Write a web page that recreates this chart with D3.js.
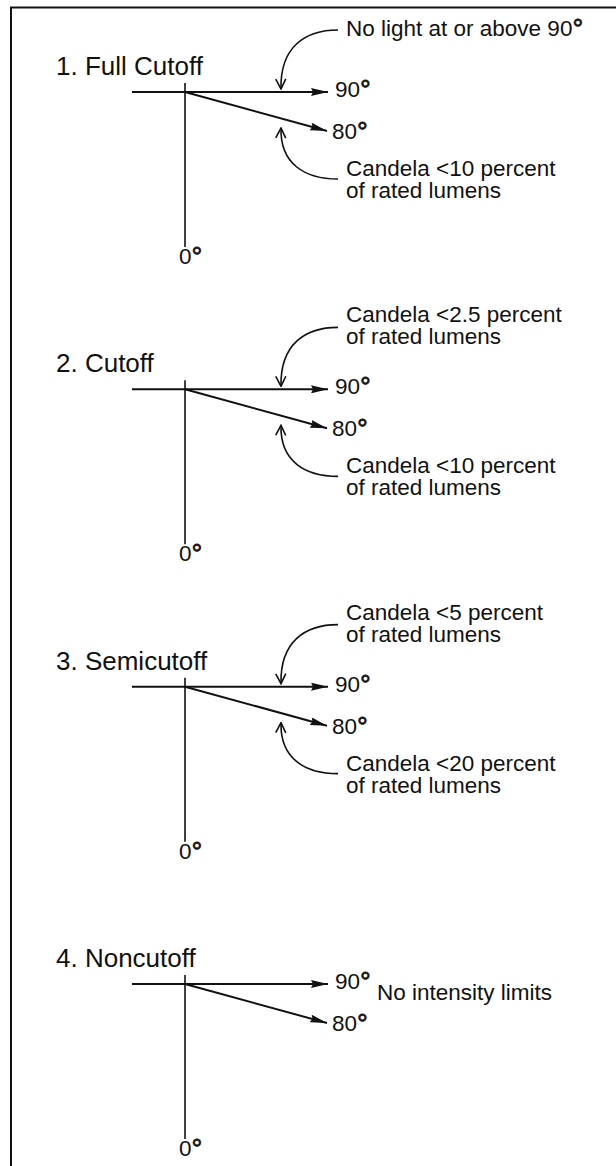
<!DOCTYPE html>
<html>
<head>
<meta charset="utf-8">
<script src="https://cdn.jsdelivr.net/npm/d3@7"></script>
<style>
  html, body { margin: 0; padding: 0; background: #fff; }
  text { font-family: "Liberation Sans", Arial, Helvetica, sans-serif; fill: #111; }
</style>
</head>
<body>
<svg id="chart"></svg>
<script>
const width = 616,
  height = 1166;

// Cutoff classes, top to bottom
const panelTitles = ["1. Full Cutoff", "2. Cutoff", "3. Semicutoff", "4. Noncutoff"];
// Note pointing at the 90 degree ray (null = none)
const upperNotes = [
  ["No light at or above 90°"],
  ["Candela <2.5 percent", "of rated lumens"],
  ["Candela <5 percent", "of rated lumens"],
  null
];
// Note pointing at the 80 degree ray
const lowerNotes = [
  ["Candela <10 percent", "of rated lumens"],
  ["Candela <10 percent", "of rated lumens"],
  ["Candela <20 percent", "of rated lumens"],
  null
];
// Note placed to the right of the rays
const sideNotes = [null, null, null, "No intensity limits"];
// Angles drawn in every panel (from nadir)
const rayAngles = [90, 80];
const nadirAngle = 0;

const svg = d3.select("#chart")
  .attr("width", width)
  .attr("height", height);

svg.append("rect").attr("width", width).attr("height", height).attr("fill", "#fff");

// frame: top and left rule only
svg.append("line").attr("x1", 10).attr("x2", width).attr("y1", 7.5).attr("y2", 7.5)
  .attr("stroke", "#111").attr("stroke-width", 2);
svg.append("line").attr("x1", 11).attr("x2", 11).attr("y1", 7).attr("y2", height)
  .attr("stroke", "#111").attr("stroke-width", 2);

const defs = svg.append("defs");
defs.append("marker")
  .attr("id", "tri")
  .attr("markerUnits", "userSpaceOnUse")
  .attr("viewBox", "0 0 17 8")
  .attr("refX", 17).attr("refY", 4)
  .attr("markerWidth", 17).attr("markerHeight", 8)
  .attr("orient", "auto")
  .append("path").attr("d", "M0,0L17,4L0,8L2,4Z").attr("fill", "#111");
defs.append("marker")
  .attr("id", "chev")
  .attr("markerUnits", "userSpaceOnUse")
  .attr("viewBox", "-1 -1 12 12")
  .attr("refX", 10).attr("refY", 5)
  .attr("markerWidth", 12).attr("markerHeight", 12)
  .attr("orient", "auto")
  .append("path").attr("d", "M0,0L10,5L0,10").attr("fill", "none")
  .attr("stroke", "#111").attr("stroke-width", 1.6);

// panel vertical placement
const y = d3.scaleLinear().domain([0, panelTitles.length - 1]).range([92, 984]);
// drop of a ray below the horizontal, by angle
const drop = d3.scaleLinear().domain([90, 80]).range([0, 39]);

const originX = 185,
  lineStartX = 132,
  tipX = 328,
  noteX = 346,
  curveX = 338,
  arrowX = 281,
  lineGap = 22,
  noteSize = 22.5;

// label with a raised degree ring
function degreeText(sel, str, fs) {
  const parts = str.split("°");
  sel.append("tspan").text(parts[0]);
  if (str.indexOf("°") >= 0) {
    sel.append("tspan").attr("font-size", fs * 1.2).attr("dy", 2)
      .attr("stroke", "#111").attr("stroke-width", 0.7).text("°");
  }
}

const curve = d3.path;

panelTitles.forEach((title, i) => {
  const g = svg.append("g").attr("transform", "translate(0," + y(i) + ")");

  g.append("text").attr("x", 56).attr("y", -17).attr("font-size", 26).text(title);

  // vertical (nadir) line
  g.append("line").attr("x1", originX).attr("x2", originX).attr("y1", -9).attr("y2", 155)
    .attr("stroke", "#111").attr("stroke-width", 1.6);
  g.append("text").attr("x", 179).attr("y", 172).attr("font-size", noteSize)
    .call(degreeText, nadirAngle + "°", noteSize);

  // horizontal back line + rays
  g.append("line").attr("x1", lineStartX).attr("x2", originX).attr("y1", 0).attr("y2", 0)
    .attr("stroke", "#111").attr("stroke-width", 2);
  rayAngles.forEach(a => {
    const dy = drop(a);
    g.append("line").attr("x1", originX).attr("y1", 0)
      .attr("x2", tipX - (a === 90 ? 0 : 1)).attr("y2", dy)
      .attr("stroke", "#111").attr("stroke-width", 2)
      .attr("marker-end", "url(#tri)");
    g.append("text").attr("x", tipX + (a === 90 ? 7 : 4)).attr("y", dy + (a === 90 ? 5 : 8))
      .attr("font-size", noteSize).call(degreeText, a + "°", noteSize);
  });

  // note pointing down to the 90 degree ray
  const up = upperNotes[i];
  if (up) {
    const p = curve();
    p.moveTo(curveX, -62);
    p.bezierCurveTo(305, -62, 280, -45, arrowX, -3);
    g.append("path").attr("d", p.toString()).attr("fill", "none")
      .attr("stroke", "#111").attr("stroke-width", 1.6).attr("marker-end", "url(#chev)");
    const first = -56 - (up.length - 1) * lineGap / 2;
    up.forEach((line, k) => {
      g.append("text").attr("x", noteX).attr("y", first + k * lineGap).attr("font-size", noteSize)
        .call(degreeText, line, noteSize);
    });
  }

  // note pointing up to the 80 degree ray
  const low = lowerNotes[i];
  if (low) {
    const p = curve();
    p.moveTo(curveX, 87);
    p.bezierCurveTo(305, 87, 280, 72, arrowX, 36);
    g.append("path").attr("d", p.toString()).attr("fill", "none")
      .attr("stroke", "#111").attr("stroke-width", 1.6).attr("marker-end", "url(#chev)");
    low.forEach((line, k) => {
      g.append("text").attr("x", noteX).attr("y", 84 + k * lineGap).attr("font-size", noteSize)
        .text(line);
    });
  }

  if (sideNotes[i]) {
    g.append("text").attr("x", 377).attr("y", 16).attr("font-size", noteSize).text(sideNotes[i]);
  }
});
</script>
</body>
</html>
